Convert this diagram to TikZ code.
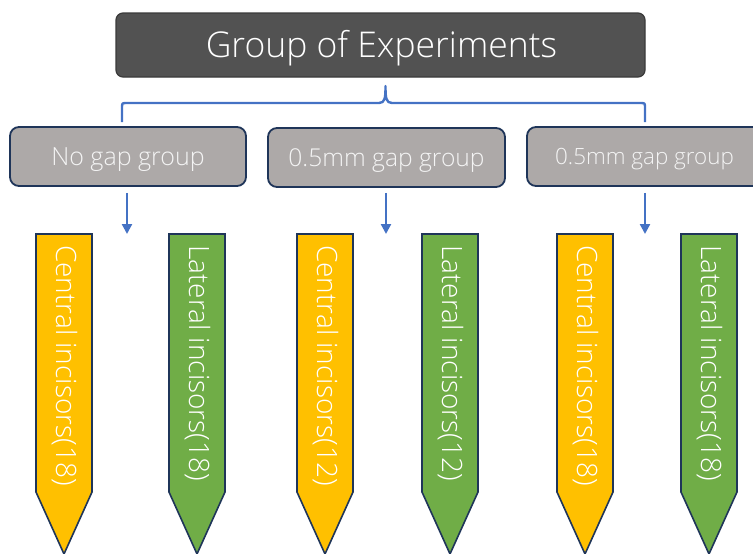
\documentclass[tikz,border=0pt]{standalone}
\usepackage{fontspec}
\setmainfont{Open Sans Light}
\usetikzlibrary{arrows.meta}
\definecolor{titlefill}{HTML}{525252}
\definecolor{titleedge}{HTML}{3A3A3A}
\definecolor{grpfill}{HTML}{ADA9A8}
\definecolor{navy}{HTML}{1F3559}
\definecolor{linkblue}{HTML}{4472C4}
\definecolor{gold}{HTML}{FFC000}
\definecolor{leaf}{HTML}{70AD47}
\definecolor{softwhite}{HTML}{F4F4F4}
\tikzset{
  titlebox/.style={draw=titleedge, line width=1.2pt, fill=titlefill, rounded corners=7pt,
    minimum width=529pt, minimum height=64pt},
  titletext/.style={text=white, font=\fontsize{35.5}{40}\selectfont, inner sep=0pt},
  grpbox/.style={draw=navy, line width=1.8pt, fill=grpfill, rounded corners=9pt,
    minimum width=236pt, minimum height=59pt},
  grptext/.style={text=softwhite, font=\fontsize{25}{30}\selectfont, inner sep=0pt},
  link/.style={draw=linkblue, line width=2.3pt, -{Triangle[width=10pt,length=10pt]}},
  bracket/.style={draw=linkblue, line width=2.4pt, line join=round},
  toothedge/.style={draw=navy, line width=1.6pt, line join=miter},
  toothtext/.style={rotate=-90, anchor=west, text=white, inner sep=0pt,
    font=\fontsize{28}{33}\selectfont}
}
\begin{document}
\begin{tikzpicture}[x=1pt,y=-1pt]
\useasboundingbox (0,0) rectangle (753,554);
\clip (0,0) rectangle (753,554);

% title
\node[titlebox] (top) at (380.5,45) {};
\node[titletext] (toplabel) at (381.5,48) {Group of Experiments};

% bracket under the title
\coordinate (bl) at (122,122);
\coordinate (br) at (645,122);
\coordinate (bn) at (385.5,86);
\path[bracket] (bl) -- (122,108) .. controls (122,103) .. (127,103)
  -- (379,103) .. controls (385,103) and (385.5,98) .. (bn)
  .. controls (385.5,98) and (386,103) .. (392,103)
  -- (640,103) .. controls (645,103) .. (645,108) -- (br);

% groups
\node[grpbox] (g1) at (128,156.5) {};
\node[grpbox, minimum width=237pt] (g2) at (386.5,157.5) {};
\node[grpbox, minimum width=237pt] (g3) at (645.5,156.5) {};
\node[grptext] (g1label) at (128,159.5) {No gap group};
\node[grptext, font=\fontsize{24.6}{30}\selectfont] (g2label) at (386.5,160.5) {0.5mm gap group};
\node[grptext, font=\fontsize{22.4}{27}\selectfont] (g3label) at (644.5,159.5) {0.5mm gap group};

% arrows into the sample columns
\coordinate (s1) at (127,234);
\coordinate (s2) at (386,234);
\coordinate (s3) at (645,234);
\draw[link] (g1.south -| s1) ++(0,6) coordinate (a1) (a1) -- (s1);
\draw[link] (g2.south -| s2) ++(0,5) coordinate (a2) (a2) -- (s2);
\draw[link] (g3.south -| s3) ++(0,6) coordinate (a3) (a3) -- (s3);

% tooth-shaped sample markers
\foreach \xl/\col/\lab/\nm in {36/gold/Central incisors(18)/t1, 169/leaf/Lateral incisors(18)/t2,
    297/gold/Central incisors(12)/t3, 422/leaf/Lateral incisors(12)/t4,
    557/gold/Central incisors(18)/t5, 681/leaf/Lateral incisors(18)/t6}{
  \path[toothedge, fill=\col] (\xl,234) -- ++(56,0) -- ++(0,258) -- ++(-28,62) -- ++(-28,-62) -- cycle;
  \node[toothtext] (\nm) at (\xl+28.5,245) {\lab};
}
\end{tikzpicture}
\end{document}
